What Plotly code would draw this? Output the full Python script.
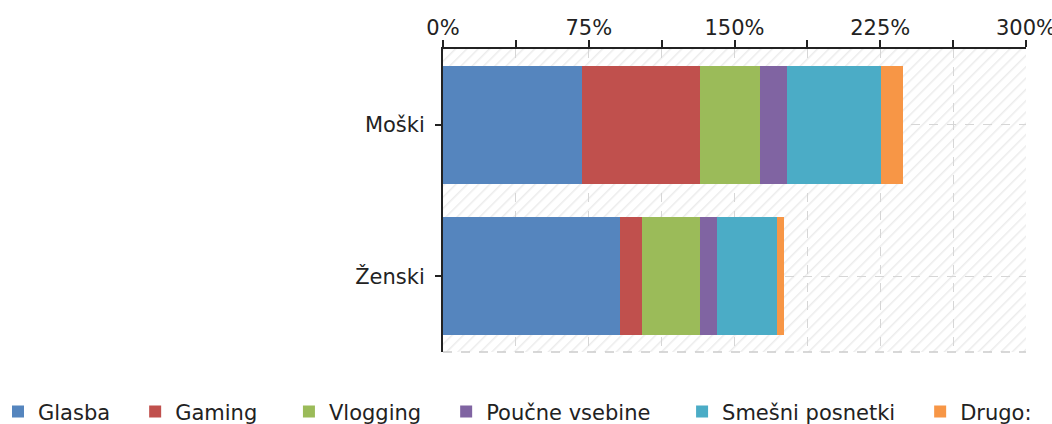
import base64
import plotly.graph_objects as go

# groups shown on the y axis (top to bottom)
spol = ["Moški", "Ženski"]

# share of respondents per content type, in %
glasba = [71.5, 91.1]
gaming = [60.7, 11.5]
vlogging = [31.0, 29.8]
poucne = [13.6, 8.4]
smesni = [48.4, 30.9]
drugo = [11.3, 3.8]

serije = ["Glasba", "Gaming", "Vlogging", "Poučne vsebine", "Smešni posnetki", "Drugo:"]
barve = ["#5585be", "#c0504d", "#9bbb59", "#8064a2", "#4bacc6", "#f79646"]

tick_vals = [0, 37.5, 75, 112.5, 150, 187.5, 225, 262.5, 300]
tick_text = ["0%", "", "75%", "", "150%", "", "225%", "", "300%"]

FONT = "DejaVu Sans"
NBSP = "\u00a0"
legend_pad = [3, 4, 3, 4, 3, 0]  # extra room after each legend entry

W, H = 1052, 424
L, T, B = 443, 49, 72
PLOT_W = 583  # plot area ends at x=1026; the margin right of it is kept in the paper

fig = go.Figure()
for ime, vrednosti, barva, pad in zip(serije, [glasba, gaming, vlogging, poucne, smesni, drugo], barve, legend_pad):
    fig.add_trace(go.Bar(
        y=spol,
        x=vrednosti,
        name=ime + NBSP * pad,
        orientation="h",
        marker=dict(color=barva, line=dict(width=0)),
        hovertemplate="%{y}: %{x}%<extra>" + ime + "</extra>",
    ))

# light diagonal hatching behind the plot area
svg = (
    '<svg xmlns="http://www.w3.org/2000/svg" width="583" height="303">'
    '<defs><pattern id="h" width="8" height="8" patternUnits="userSpaceOnUse" '
    'patternTransform="rotate(45)"><rect width="8" height="8" fill="#ffffff"/>'
    '<line x1="0" y1="0" x2="0" y2="8" stroke="#ececec" stroke-width="3"/></pattern></defs>'
    '<rect width="583" height="303" fill="url(#h)"/></svg>'
)
src = "data:image/svg+xml;base64," + base64.b64encode(svg.encode()).decode()

paper_w = W - L
fig.update_layout(
    width=W,
    height=H,
    barmode="stack",
    bargap=0.22,
    margin=dict(l=L, r=0, t=T, b=B, autoexpand=False),
    paper_bgcolor="white",
    plot_bgcolor="rgba(0,0,0,0)",
    font=dict(family=FONT, size=21, color="#222222"),
    showlegend=True,
    legend=dict(
        orientation="h",
        x=-(L + 2) / paper_w, xanchor="left",
        y=-0.13, yanchor="top",
        font=dict(family=FONT, size=21, color="#222222"),
        traceorder="normal",
        itemwidth=30,
    ),
    images=[dict(
        source=src, xref="x domain", yref="y domain", x=0, y=1,
        sizex=1, sizey=1, sizing="stretch", layer="below",
    )],
    shapes=[dict(
        type="line", xref="x domain", yref="y domain", x0=0, x1=1, y0=0, y1=0,
        line=dict(color="#cccccc", width=1.5, dash="dash"),
    )],
)

fig.update_xaxes(
    domain=[0, PLOT_W / paper_w],
    side="top",
    range=[0, 300],
    tickvals=tick_vals,
    ticktext=tick_text,
    ticks="outside",
    ticklen=7,
    tickwidth=1.5,
    tickcolor="#222222",
    ticklabelstandoff=-3,
    ticklabeloverflow="allow",
    showline=True,
    linecolor="#222222",
    linewidth=2,
    showgrid=True,
    gridcolor="#d6d6d6",
    griddash="dash",
    gridwidth=1,
    zeroline=False,
    fixedrange=True,
)

fig.update_yaxes(
    categoryorder="array",
    categoryarray=spol,
    autorange="reversed",
    ticks="outside",
    ticklen=6,
    tickwidth=1.5,
    tickcolor="#222222",
    showline=True,
    linecolor="#222222",
    linewidth=2,
    showgrid=True,
    gridcolor="#d6d6d6",
    griddash="dash",
    ticklabelstandoff=6,
    fixedrange=True,
)

fig.write_html(
    "out.html",
    config={"displayModeBar": False},
    post_script="document.body.style.margin='0px';",
)
